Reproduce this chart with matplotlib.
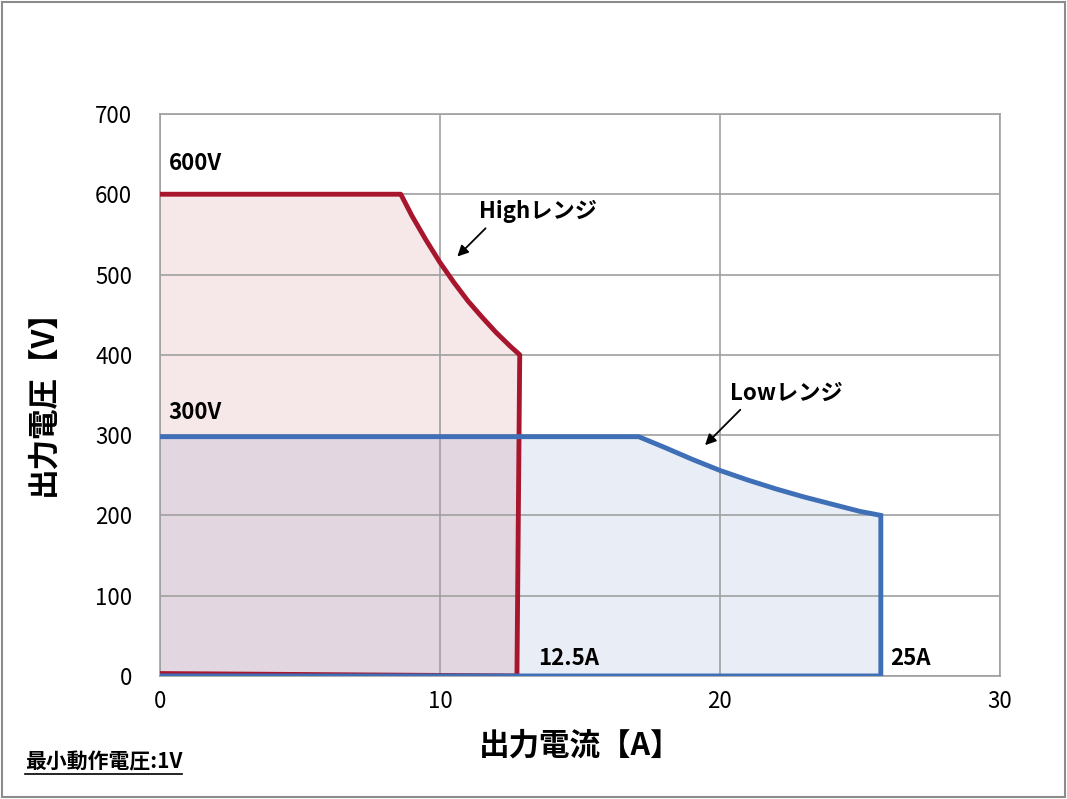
import matplotlib.pyplot as plt
from matplotlib.lines import Line2D
from matplotlib.patches import Rectangle

plt.rcParams['font.family'] = ['Noto Sans CJK JP', 'DejaVu Sans']

# High range outline (current A, voltage V)
high_i = [0.0, 8.6, 9.0, 9.5, 10.0, 10.5, 11.0, 11.5, 12.0, 12.5, 12.85, 12.75, 0.0]
high_v = [600, 600, 573, 543, 515, 490, 467, 447, 428, 411, 400, 0, 3]

# Low range outline
low_i = [0.0, 17.1, 18.0, 19.0, 20.0, 21.0, 22.0, 23.0, 24.0, 25.0, 25.75, 25.75, 0.0]
low_v = [298, 298, 285, 270, 256, 244, 233, 223, 214, 205, 200, 0, 0]

x_ticks = [0, 10, 20, 30]
y_ticks = [0, 100, 200, 300, 400, 500, 600, 700]

red = '#A8162E'
blue = '#3F6FB6'

fig = plt.figure(figsize=(10.67, 7.99), dpi=100)
fig.patches.append(Rectangle((0.002, 0.002), 0.996, 0.996, transform=fig.transFigure,
                             fill=False, edgecolor='#8c8c8c', linewidth=1.5))
ax = fig.add_axes([0.15, 0.154, 0.787, 0.7034])

# fills sit under the grid, outlines above it
ax.fill(low_i, low_v, color='#E9EEF6', zorder=1, linewidth=0)
ax.fill(high_i, high_v, color='#A8162E', alpha=0.1, zorder=1.5, linewidth=0)
ax.plot(high_i, high_v, color=red, linewidth=3.5, zorder=4, solid_joinstyle='round')
ax.plot(low_i, low_v, color=blue, linewidth=3.5, zorder=5, solid_joinstyle='miter')

ax.set_xlim(0, 30)
ax.set_ylim(0, 700)
ax.set_xticks(x_ticks)
ax.set_yticks(y_ticks)
ax.set_axisbelow(False)
ax.grid(True, color='#a0a0a0', linewidth=1.2)
for s in ax.spines.values():
    s.set_color('#a0a0a0')
    s.set_linewidth(1.2)
ax.tick_params(length=0, labelsize=16, pad=10)
ax.tick_params(axis='y', pad=20)

ax.set_xlabel('出力電流【A】', fontsize=22, fontweight='bold', labelpad=12)
ax.set_ylabel('出力電圧【V】', fontsize=22, fontweight='bold', labelpad=26)

bold = dict(fontsize=16, fontweight='bold', zorder=6)
ax.text(0.3, 638, '600V', va='center', ha='left', **bold)
ax.text(0.3, 328, '300V', va='center', ha='left', **bold)
ax.text(13.5, 22, '12.5A', va='center', ha='left', **bold)
ax.text(26.1, 22, '25A', va='center', ha='left', **bold)

arrow = dict(arrowstyle='-|>', color='black', lw=1.3, mutation_scale=16)
ax.annotate('', xy=(10.55, 520), xytext=(11.7, 560), arrowprops=arrow, zorder=6)
ax.text(11.4, 578, 'Highレンジ', va='center', ha='left', **bold)
ax.annotate('', xy=(19.4, 285), xytext=(20.8, 334), arrowprops=arrow, zorder=6)
ax.text(20.35, 352, 'Lowレンジ', va='center', ha='left', **bold)

note = fig.text(25 / 1067, 1 - 762 / 799, '最小動作電圧:1V', fontsize=15,
                fontweight='bold', va='center', ha='left')
fig.canvas.draw()
bb = note.get_window_extent().transformed(fig.transFigure.inverted())
fig.lines.append(Line2D([bb.x0, bb.x1], [bb.y0 - 0.002, bb.y0 - 0.002],
                        transform=fig.transFigure, color='black', linewidth=1.2))

fig.savefig('out.png', dpi=100)
